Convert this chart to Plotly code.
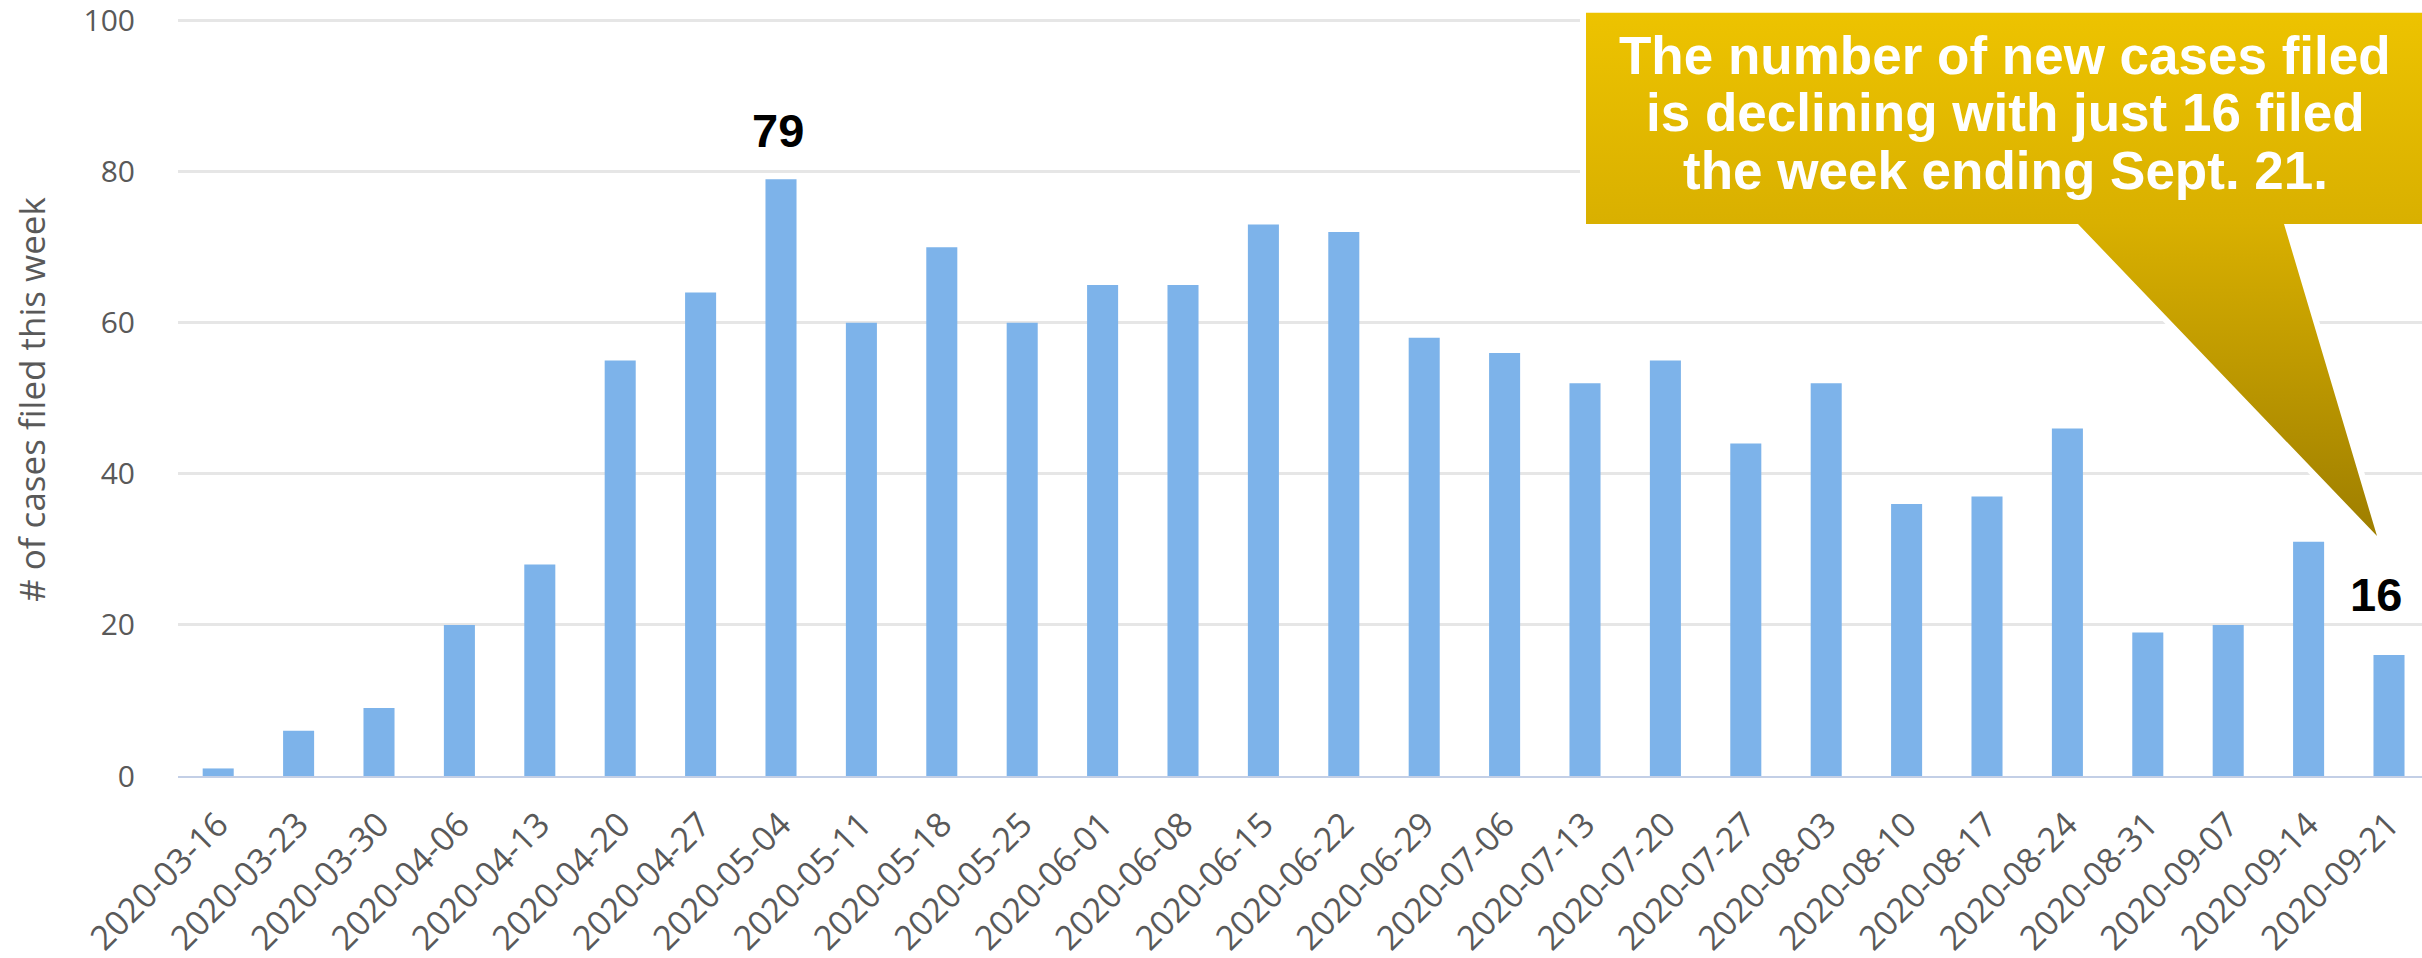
import plotly.graph_objects as go

# ---------------- data ----------------
weeks = ["2020-03-16", "2020-03-23", "2020-03-30", "2020-04-06", "2020-04-13",
         "2020-04-20", "2020-04-27", "2020-05-04", "2020-05-11", "2020-05-18",
         "2020-05-25", "2020-06-01", "2020-06-08", "2020-06-15", "2020-06-22",
         "2020-06-29", "2020-07-06", "2020-07-13", "2020-07-20", "2020-07-27",
         "2020-08-03", "2020-08-10", "2020-08-17", "2020-08-24", "2020-08-31",
         "2020-09-07", "2020-09-14", "2020-09-21"]
cases = [1, 6, 9, 20, 28, 55, 64, 79, 60, 70, 60, 65, 65, 73, 72, 58, 56, 52,
         55, 44, 52, 36, 37, 46, 19, 20, 31, 16]
y_ticks = [0, 20, 40, 60, 80, 100]
y_title = "# of cases filed this week"
callout_lines = ["The number of new cases filed",
                 "is declining with just 16 filed",
                 "the week ending Sept. 21."]
labelled_weeks = ["2020-05-04", "2020-09-21"]

# ---------------- layout geometry (pixels) ----------------
W, H = 2422, 958
PLOT_L, PLOT_R = 178, 2422
Y_ZERO_PX = 776          # pixel row of value 0
PX_PER_UNIT = 7.555      # pixels per case
Y_MAX = 102              # axis range top (so that the 100 gridline is kept)
PLOT_T = Y_ZERO_PX - Y_MAX * PX_PER_UNIT
CAT_PX = 80.4

TICK_FONT_Y = dict(family="Open Sans, DejaVu Sans, sans-serif", size=30, color="#595959")
TICK_FONT_X = dict(family="Open Sans, DejaVu Sans, sans-serif", size=34, color="#595959")
BOLD = "Liberation Sans, Arial, sans-serif"

fig = go.Figure()

fig.add_trace(go.Bar(
    x=weeks, y=cases, width=0.386,
    marker=dict(color="#7DB3EA", line=dict(width=0)),
    xaxis="x", yaxis="y", showlegend=False, hoverinfo="x+y",
))

# callout bubble (decoration) in pixel space of a full-figure helper subplot
cx = [1586, 2445, 2445, 2284, 2377, 2078, 1586, 1586]
cy = [12.7, 12.7, 224, 224, 536, 224, 224, 12.7]
fig.add_trace(go.Scatter(
    x=cx, y=cy, xaxis="x2", yaxis="y2", mode="lines",
    line=dict(color="white", width=12), hoverinfo="skip", showlegend=False,
))
fig.add_trace(go.Scatter(
    x=cx, y=cy, xaxis="x2", yaxis="y2", mode="none", fill="toself",
    fillgradient=dict(type="vertical",
                      colorscale=[[0, "#EDC300"], [0.4, "#D9B000"], [1, "#9E7E00"]],
                      start=12.7, stop=536),
    hoverinfo="skip", showlegend=False,
))

annotations = []
# value labels
for wk in labelled_weeks:
    i = weeks.index(wk)
    last = (i == len(weeks) - 1)
    annotations.append(dict(
        x=wk, y=cases[i], xref="x", yref="y", text=str(cases[i]),
        showarrow=False, yanchor="middle", xanchor="center",
        yshift=61 if last else 49, xshift=-13 if last else -3,
        font=dict(family=BOLD, size=47, color="black", weight="bold"),
    ))

# callout text
for k, (line, base) in enumerate(zip(callout_lines, [74, 131.5, 189])):
    cyp = base - 0.35 * 53
    annotations.append(dict(
        x=2005 / W, y=1 - cyp / H, xref="paper", yref="paper", text=line,
        showarrow=False, xanchor="center", yanchor="middle",
        font=dict(family=BOLD, size=53, color="white", weight="bold"),
    ))

# y axis title
annotations.append(dict(
    x=31 / W, y=1 - 399 / H, xref="paper", yref="paper", text=y_title,
    showarrow=False, textangle=-90, xanchor="center", yanchor="middle",
    font=dict(family="Open Sans, DejaVu Sans, sans-serif", size=35, color="#595959"),
))

n_vis = (PLOT_R - PLOT_L) / CAT_PX
fig.update_layout(
    width=W, height=H,
    margin=dict(l=0, r=0, t=0, b=0, autoexpand=False),
    paper_bgcolor="white", plot_bgcolor="rgba(0,0,0,0)",
    showlegend=False,
    xaxis=dict(
        domain=[PLOT_L / W, PLOT_R / W], anchor="y", type="category",
        range=[-0.5, -0.5 + n_vis], tickangle=-45, tickfont=TICK_FONT_X,
        showline=True, linecolor="#C3CFE6", linewidth=2, showgrid=False,
        ticks="", ticklabelstandoff=13, ticklabeloverflow="allow", fixedrange=True,
    ),
    yaxis=dict(
        domain=[1 - Y_ZERO_PX / H, 1 - PLOT_T / H], anchor="x",
        range=[0, Y_MAX], tickmode="array", tickvals=y_ticks, tickfont=TICK_FONT_Y,
        gridcolor="#E6E6E6", gridwidth=3, zeroline=False, showline=False,
        ticks="", ticklabelstandoff=42, ticklabeloverflow="allow", fixedrange=True,
    ),
    xaxis2=dict(domain=[0, 1], anchor="y2", range=[0, W], visible=False, fixedrange=True),
    yaxis2=dict(domain=[0, 1], anchor="x2", range=[H, 0], visible=False, fixedrange=True),
    annotations=annotations,
)

fig.write_html(
    "out.html",
    config={"displayModeBar": False},
    post_script="document.body.style.margin='0px';document.body.style.overflow='hidden';",
)
